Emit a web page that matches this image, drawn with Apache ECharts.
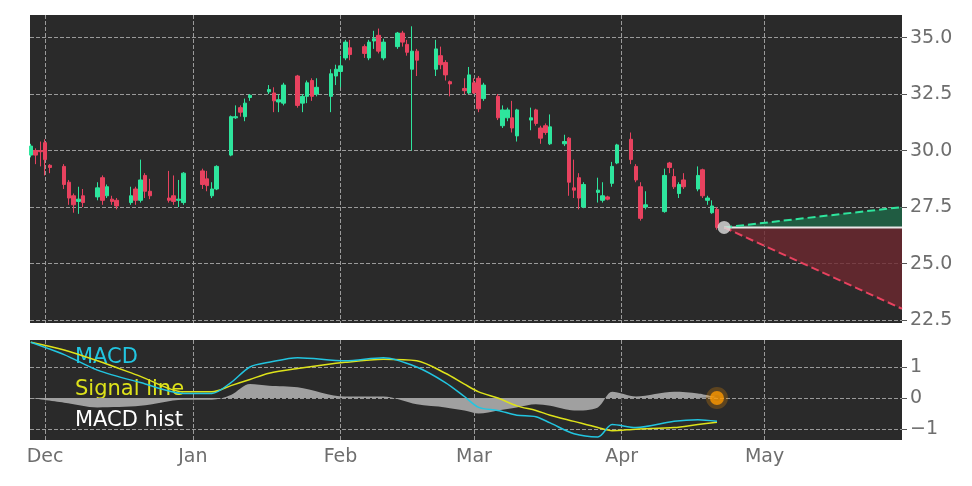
<!DOCTYPE html>
<html><head><meta charset="utf-8">
<script src="https://cdn.jsdelivr.net/npm/echarts@6/dist/echarts.min.js"></script>
<style>html,body{margin:0;padding:0;background:#fff}#c{width:972px;height:486px}</style>
</head><body><div id="c"></div>
<script>
const dates=['2022-11-28','2022-11-29','2022-11-30','2022-12-01','2022-12-02','2022-12-05','2022-12-06','2022-12-07','2022-12-08','2022-12-09','2022-12-12','2022-12-13','2022-12-14','2022-12-15','2022-12-16','2022-12-19','2022-12-20','2022-12-21','2022-12-22','2022-12-23','2022-12-27','2022-12-28','2022-12-29','2022-12-30','2023-01-03','2023-01-04','2023-01-05','2023-01-06','2023-01-09','2023-01-10','2023-01-11','2023-01-12','2023-01-13','2023-01-17','2023-01-18','2023-01-19','2023-01-20','2023-01-23','2023-01-24','2023-01-25','2023-01-26','2023-01-27','2023-01-30','2023-01-31','2023-02-01','2023-02-02','2023-02-03','2023-02-06','2023-02-07','2023-02-08','2023-02-09','2023-02-10','2023-02-13','2023-02-14','2023-02-15','2023-02-16','2023-02-17','2023-02-21','2023-02-22','2023-02-23','2023-02-24','2023-02-27','2023-02-28','2023-03-01','2023-03-02','2023-03-03','2023-03-06','2023-03-07','2023-03-08','2023-03-09','2023-03-10','2023-03-13','2023-03-14','2023-03-15','2023-03-16','2023-03-17','2023-03-20','2023-03-21','2023-03-22','2023-03-23','2023-03-24','2023-03-27','2023-03-28','2023-03-29','2023-03-30','2023-03-31','2023-04-03','2023-04-04','2023-04-05','2023-04-06','2023-04-10','2023-04-11','2023-04-12','2023-04-13','2023-04-14','2023-04-17','2023-04-18','2023-04-19','2023-04-20','2023-04-21'];
const open=[29.8,30.0,30.0,30.35,29.35,29.3,28.6,28.0,27.75,28.0,27.95,28.8,28.0,27.85,27.8,27.7,28.3,27.8,28.9,28.2,27.9,28.0,27.8,27.7,29.1,28.75,28.0,28.3,29.8,31.45,31.9,31.5,32.35,32.6,32.55,32.15,32.1,33.3,32.1,32.4,33.1,32.5,32.4,33.3,33.5,34.1,34.55,34.6,34.1,34.85,35.1,34.1,34.6,35.2,34.7,33.6,34.4,33.6,34.2,33.9,33.05,32.75,32.55,33.0,33.2,32.3,32.4,31.1,31.45,31.45,30.65,31.35,31.8,31.0,31.1,30.3,30.3,30.55,28.35,28.8,27.5,28.15,27.8,27.95,28.55,29.45,30.5,29.3,28.4,27.5,27.3,29.45,28.85,28.1,28.7,28.3,29.15,27.8,27.25,27.4];
const close=[30.2,29.8,29.95,29.6,29.25,28.5,27.9,27.6,27.85,27.7,28.35,27.8,28.4,27.75,27.55,28.0,27.8,28.7,28.2,28.0,27.8,27.75,27.85,29.0,28.5,28.45,28.3,29.3,31.5,31.5,31.7,32.1,32.45,32.7,32.2,32.25,32.9,32.0,32.4,33.0,32.4,32.8,33.4,33.6,33.75,34.8,34.25,34.3,34.8,34.95,34.4,34.8,35.2,34.8,34.35,34.4,34.0,34.5,33.8,33.35,32.95,32.65,33.35,32.55,31.85,32.9,31.45,31.8,31.8,31.0,31.8,31.45,31.2,30.55,30.8,31.05,30.4,28.6,28.25,27.9,28.5,28.25,28.0,27.85,29.3,30.25,29.6,28.7,27.0,27.6,28.9,29.25,28.4,28.5,28.4,28.9,28.0,27.9,27.55,26.6];
const low=[29.7,29.4,29.3,28.9,29.0,28.3,27.6,27.25,27.2,27.5,27.8,27.6,27.9,27.6,27.4,27.6,27.6,27.7,27.9,27.85,27.7,27.6,27.5,27.6,28.3,28.2,27.9,28.25,29.75,31.4,31.5,31.3,32.2,32.5,31.7,31.7,32.0,31.9,31.7,32.1,32.2,32.4,31.7,32.9,32.8,34.0,34.0,34.1,34.0,34.5,34.3,34.0,34.5,34.6,34.2,30.0,33.3,33.3,33.6,33.1,32.4,32.5,32.5,32.5,31.7,32.2,31.35,31.0,31.3,30.8,30.4,30.9,31.1,30.3,30.7,30.25,30.2,28.0,27.9,27.4,27.45,27.7,27.7,27.8,28.4,29.4,29.4,28.6,26.9,27.4,27.25,29.0,28.3,27.9,28.3,28.2,27.9,27.6,27.2,26.5];
const high=[30.3,30.1,30.4,30.5,29.4,29.4,28.7,28.1,28.4,28.3,28.6,28.9,28.5,28.0,27.9,28.4,28.4,29.6,29.0,28.75,29.1,28.9,28.7,29.05,29.2,29.1,28.6,29.35,31.55,32.0,32.0,32.3,32.5,32.9,32.8,32.5,33.0,33.35,32.5,33.1,33.2,33.2,33.6,33.8,34.2,34.9,34.9,34.7,34.9,35.3,35.4,34.95,35.25,35.3,34.9,35.5,34.5,34.9,34.6,34.0,33.1,33.2,33.7,33.2,33.3,33.0,32.5,32.0,31.9,32.2,31.85,31.9,31.85,31.1,31.2,31.6,30.7,30.6,29.6,29.0,28.6,28.8,28.6,28.0,29.5,30.3,30.8,29.4,28.6,28.2,29.2,29.5,29.2,28.6,29.0,29.3,29.2,28.0,27.8,27.5];
const macdDates=['2022-11-28','2022-12-05','2022-12-12','2022-12-21','2022-12-30','2023-01-05','2023-01-09','2023-01-13','2023-01-17','2023-01-23','2023-02-02','2023-02-10','2023-02-17','2023-02-23','2023-02-27','2023-03-02','2023-03-06','2023-03-10','2023-03-14','2023-03-17','2023-03-22','2023-03-27','2023-03-30','2023-04-04','2023-04-12','2023-04-17','2023-04-21'];
const macd=[1.8,1.4,0.9,0.5,0.15,0.15,0.5,1.0,1.15,1.3,1.2,1.3,1.0,0.5,0.05,-0.3,-0.4,-0.55,-0.6,-0.8,-1.15,-1.25,-0.85,-0.95,-0.75,-0.7,-0.75];
const signal=[1.8,1.55,1.2,0.7,0.2,0.2,0.4,0.6,0.8,0.95,1.15,1.25,1.2,0.8,0.45,0.2,0.0,-0.25,-0.4,-0.55,-0.75,-0.95,-1.05,-1.0,-0.95,-0.85,-0.78];
const hist=[0,-0.15,-0.3,-0.25,-0.05,-0.05,0.1,0.45,0.4,0.35,0.05,0.05,-0.2,-0.3,-0.4,-0.5,-0.4,-0.3,-0.2,-0.25,-0.4,-0.3,0.2,0.05,0.2,0.15,0.03];
const projStart=['2023-04-22T12:00',26.6];
const projEnd='2023-05-29T20:00';
const projUp=27.5, projDown=23.0;
const priceTicks=[22.5,25.0,27.5,30.0,32.5,35.0];
const macdTicks=[-1,0,1];
const monthTicks=['2022-12-01','2023-01-01','2023-02-01','2023-03-01','2023-04-01','2023-05-01'];
const monthNames=['Dec','Jan','Feb','Mar','Apr','May'];

const T=s=>new Date(s).getTime();
const xmin=T('2022-11-27T20:00'), xmax=T(projEnd);
const mTicks=monthTicks.map(T);
const candle=dates.map((d,i)=>[T(d),open[i],close[i],low[i],high[i]]);
const split={show:true,lineStyle:{color:'#9a9a9a',type:'dashed',width:1}};
const lab={color:'#6e6e6e',fontSize:19,fontFamily:'DejaVu Sans'};
function xAx(idx,show){return {type:'value',gridIndex:idx,min:xmin,max:xmax,scale:true,
  axisLine:{show:false},axisTick:{show:show,customValues:mTicks,length:5,lineStyle:{color:'#555'}},
  axisLabel:{show:show,customValues:mTicks,...lab,formatter:v=>{const k=mTicks.indexOf(v);return k>=0?monthNames[k]:'';}},
  splitLine:split};}
const sx=T(projStart[0]), ex=xmax;
function tri(y2,color){return {type:'custom',xAxisIndex:0,yAxisIndex:0,z:1,
  data:[[sx,projStart[1],ex,projStart[1],ex,y2]],
  renderItem:(p,api)=>{const a=api.coord([api.value(0),api.value(1)]),b=api.coord([api.value(2),api.value(3)]),c=api.coord([api.value(4),api.value(5)]);
    return {type:'polygon',shape:{points:[a,b,c]},style:{fill:color}};}};}
const option={animation:false,backgroundColor:'#fff',
 grid:[{left:30,right:70,top:15,height:308,backgroundColor:'#2a2a2a',show:true,borderWidth:0},
       {left:30,right:70,top:340,height:100,backgroundColor:'#2a2a2a',show:true,borderWidth:0}],
 xAxis:[xAx(0,false),xAx(1,true)],
 yAxis:[{type:'value',gridIndex:0,position:'right',min:22.37,max:36.0,axisLine:{show:false},
   axisTick:{show:true,customValues:priceTicks,length:5,lineStyle:{color:'#555'}},
   axisLabel:{customValues:priceTicks,...lab,formatter:v=>v.toFixed(1)},splitLine:split},
  {type:'value',gridIndex:1,position:'right',min:-1.35,max:1.87,axisLine:{show:false},
   axisTick:{show:true,customValues:macdTicks,length:5,lineStyle:{color:'#555'}},
   axisLabel:{customValues:macdTicks,...lab,formatter:v=>v<0?'\u2212'+Math.abs(v):String(v)},splitLine:split}],
 series:[
  tri(projUp,'rgba(30,110,75,0.75)'),tri(projDown,'rgba(110,40,48,0.8)'),
  {type:'line',xAxisIndex:0,yAxisIndex:0,data:[[sx,projStart[1]],[ex,projStart[1]]],symbol:'none',lineStyle:{color:'#e8e8e8',width:2},z:3},
  {type:'line',xAxisIndex:0,yAxisIndex:0,data:[[sx,projStart[1]],[ex,projUp]],symbol:'none',lineStyle:{color:'#2ee59d',width:2,type:'dashed'},z:3},
  {type:'line',xAxisIndex:0,yAxisIndex:0,data:[[sx,projStart[1]],[ex,projDown]],symbol:'none',lineStyle:{color:'#e8425f',width:2,type:'dashed'},z:3},
  {type:'candlestick',xAxisIndex:0,yAxisIndex:0,barWidth:4,z:4,
   encode:{x:0,y:[1,2,3,4]},data:candle,
   itemStyle:{color:'#2ee59d',color0:'#e8425f',borderColor:'#2ee59d',borderColor0:'#e8425f',borderWidth:1}},
  {type:'scatter',xAxisIndex:0,yAxisIndex:0,data:[[sx,projStart[1]]],symbolSize:13,itemStyle:{color:'#dddddd'},z:5},
  {type:'line',xAxisIndex:1,yAxisIndex:1,data:macdDates.map((d,i)=>[T(d),hist[i]]),symbol:'none',smooth:0.3,lineStyle:{width:0},areaStyle:{color:'#a0a0a0',opacity:1},z:1},
  {type:'line',xAxisIndex:1,yAxisIndex:1,data:macdDates.map((d,i)=>[T(d),signal[i]]),symbol:'none',smooth:0.3,lineStyle:{color:'#dde21a',width:1.5},z:2},
  {type:'line',xAxisIndex:1,yAxisIndex:1,data:macdDates.map((d,i)=>[T(d),macd[i]]),symbol:'none',smooth:0.3,lineStyle:{color:'#22c5e0',width:1.5},z:3},
  {type:'scatter',xAxisIndex:1,yAxisIndex:1,data:[[T('2023-04-21'),0]],symbolSize:14,itemStyle:{color:'#ff9a00',borderColor:'rgba(255,154,0,0.3)',borderWidth:8},z:5}
 ],
 graphic:[
  {type:'text',left:75,top:347,style:{text:'MACD',fill:'#22c5e0',fontSize:21,fontFamily:'DejaVu Sans'}},
  {type:'text',left:75,top:379,style:{text:'Signal line',fill:'#dde21a',fontSize:21,fontFamily:'DejaVu Sans'}},
  {type:'text',left:75,top:410,style:{text:'MACD hist',fill:'#ffffff',fontSize:21,fontFamily:'DejaVu Sans'}}
 ]};
echarts.init(document.getElementById('c')).setOption(option);
</script></body></html>
